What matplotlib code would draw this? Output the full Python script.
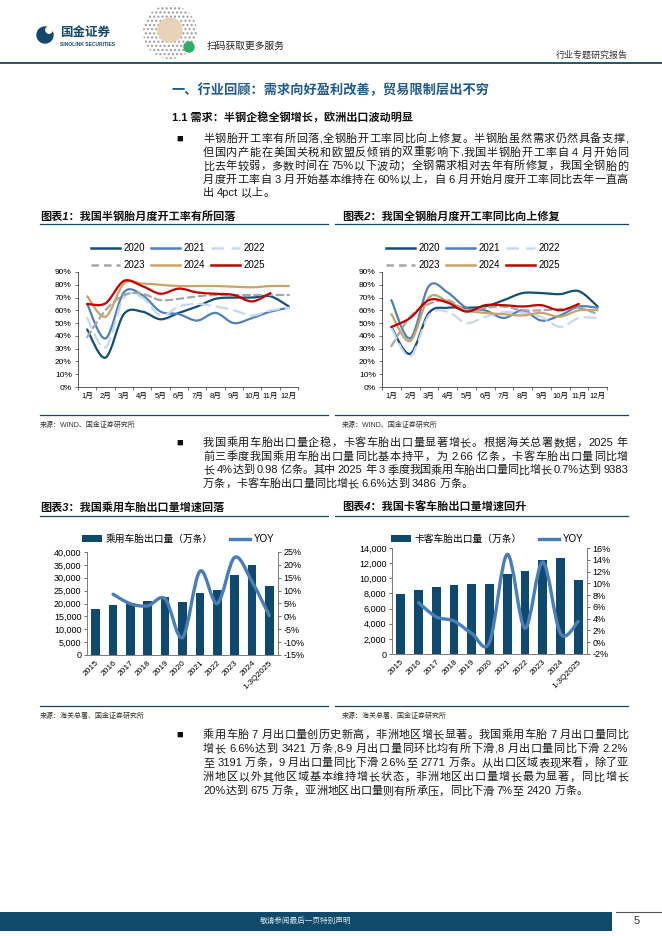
import re
import numpy as np
import matplotlib
matplotlib.use('Agg')
import matplotlib.pyplot as plt
from matplotlib.path import Path
from matplotlib.patches import PathPatch, Rectangle, Circle
from matplotlib.lines import Line2D
from matplotlib.ticker import FuncFormatter, MultipleLocator

plt.rcParams['font.family'] = ['Liberation Sans', 'Noto Sans CJK SC', 'DejaVu Sans']

W, H = 662, 936

# ---- data ----
months = ['1月', '2月', '3月', '4月', '5月', '6月', '7月', '8月', '9月', '10月', '11月', '12月']
years = ['2020', '2021', '2022', '2023', '2024', '2025']

# semi-steel tyre monthly operating rate (%)
semi_2020 = [45, 23, 57, 59, 53, 58, 63, 69, 70, 70, 71, 63]
semi_2021 = [65, 38, 74, 72, 59, 57, 52, 58, 50, 54, 59, 62]
semi_2022 = [54, 31, 70, 70, 56, 63, 65, 63, 60, 56, 60, 62]
semi_2023 = [39, 60, 72, 73, 68, 69, 71, 72, 72, 72, 72, 72]
semi_2024 = [71, 55, 81, 81, 80, 79, 79, 79, 78.5, 78, 79, 79]
semi_2025 = [65, 65.5, 83, 79, 73, 77, 74, 73, 72, 67, 73.5]

# all-steel tyre monthly operating rate (%)
full_2020 = [47, 26, 58, 62, 62, 63, 68, 73.5, 73.5, 72.7, 75, 63]
full_2021 = [68, 38, 79, 74, 62, 60, 54, 60, 52, 56, 63, 62]
full_2022 = [46, 24, 56, 59, 50, 55, 58.5, 58, 55, 47, 54, 54]
full_2023 = [32, 55, 65, 68, 60, 62, 63, 60, 60, 61, 62, 57]
full_2024 = [57, 36, 70, 67, 60, 58, 57, 56, 58, 55, 60, 60]
full_2025 = [47, 54, 68, 66, 59, 64, 64, 63, 64, 60, 65]

export_cats = ['2015', '2016', '2017', '2018', '2019', '2020', '2021', '2022', '2023', '2024', '1-3Q2025']
pcr_export = [17800, 19350, 20130, 21040, 22340, 20520, 24030, 25190, 30900, 35060, 26620]
pcr_yoy = [None, 8.6, 4.9, 4.1, 6.8, -8.2, 17.5, 5.0, 22.9, 13.5, 0.3]
tbr_export = [7905, 8435, 8790, 9140, 9230, 9275, 10600, 10910, 12410, 12630, 9760]
tbr_yoy = [None, 6.7, 4.3, 3.6, 1.5, 0.0, 14.9, 2.4, 13.6, 1.5, 3.5]

line_colors = ['#154f74', '#4f81bd', '#c6d9f0', '#a6a6a6', '#c8a46a', '#c00000']
line_styles = ['-', '-', (0, (5, 3)), (0, (3, 2)), '-', '-']
bar_color = '#0f4a6e'
yoy_color = '#4a7ebb'
teal = '#14486a'

para1 = ["半钢胎开工率有所回落,全钢胎开工率同比向上修复。半钢胎虽然需求仍然具备支撑,",
         "但国内产能在美国关税和欧盟反倾销的双重影响下,我国半钢胎开工率自 4 月开始同",
         "比去年较弱，多数时间在 75%以下波动；全钢需求相对去年有所修复，我国全钢胎的",
         "月度开工率自 3 月开始基本维持在 60%以上，自 6 月开始月度开工率同比去年一直高",
         "出 4pct 以上。"]
para2 = ["我国乘用车胎出口量企稳，卡客车胎出口量显著增长。根据海关总署数据，2025 年",
         "前三季度我国乘用车胎出口量同比基本持平，为 2.66 亿条，卡客车胎出口量同比增",
         "长 4%达到 0.98 亿条。其中 2025 年 3 季度我国乘用车胎出口量同比增长 0.7%达到 9383",
         "万条，卡客车胎出口量同比增长 6.6%达到 3486 万条。"]
para3 = ["乘用车胎 7 月出口量创历史新高，非洲地区增长显著。我国乘用车胎 7 月出口量同比",
         "增长 6.6%达到 3421 万条,8-9 月出口量同环比均有所下滑,8 月出口量同比下滑 2.2%",
         "至 3191 万条，9 月出口量同比下滑 2.6%至 2771 万条。从出口区域表现来看，除了亚",
         "洲地区以外其他区域基本维持增长状态，非洲地区出口量增长最为显著，同比增长",
         "20%达到 675 万条，亚洲地区出口量则有所承压，同比下滑 7%至 2420 万条。"]


def fx(x):
    return x / W


def fy(y):
    return 1 - y / H


def axes_px(left, top, right, bottom):
    return fig.add_axes([fx(left), fy(bottom), (right - left) / W, (bottom - top) / H])


def smooth_path(xs, ys):
    # bezier through the points, like excel's smoothed line
    pts = [np.array([x, y], float) for x, y in zip(xs, ys) if y is not None]
    verts = [pts[0]]
    codes = [Path.MOVETO]
    n = len(pts)
    for i in range(n - 1):
        p0 = pts[i - 1] if i > 0 else pts[i]
        p1, p2 = pts[i], pts[i + 1]
        p3 = pts[i + 2] if i + 2 < n else pts[i + 1]
        verts += [p1 + (p2 - p0) / 6, p2 - (p3 - p1) / 6, p2]
        codes += [Path.CURVE4] * 3
    return Path(verts, codes)


def justify(lines, x0, x1, y0, step, size=8):
    r = fig.canvas.get_renderer()
    for k, line in enumerate(lines):
        y = fy(y0 + k * step)
        toks = re.findall(r'[A-Za-z0-9.%\-]+| |.', line)
        objs, widths = [], []
        for t in toks:
            if t == ' ':
                objs.append(None)
                widths.append(size * 0.35)
                continue
            o = fig.text(0, y, t, fontsize=size, va='center', ha='left', color='#1a1a1a')
            objs.append(o)
            widths.append(o.get_window_extent(r).width)
        last = k == len(lines) - 1
        gap = (x1 - x0 - sum(widths)) / max(len(toks) - 1, 1)
        if last:
            gap = min(gap, 0)
        x = x0
        for o, w in zip(objs, widths):
            if o is not None:
                o.set_x(fx(x))
            x += w + gap


fig = plt.figure(figsize=(W / 100, H / 100), dpi=100)

# background drawing layer in pixel units
bg = fig.add_axes([0, 0, 1, 1])
bg.set_xlim(0, W)
bg.set_ylim(H, 0)
bg.axis('off')

# ---- header ----
bg.add_patch(Circle((45, 35), 8, color=teal))
bg.add_patch(Circle((49, 30), 3.2, color='white'))
fig.text(fx(60), fy(33), '国金证券', fontsize=9, fontweight='bold', color=teal, va='center')
fig.text(fx(60), fy(45), 'SINOLINK SECURITIES', fontsize=3.6, fontweight='bold', color=teal, va='center')
bg.add_patch(Circle((170, 32), 27, facecolor='white', edgecolor='#9a9a9a', hatch='....', lw=0))
bg.add_patch(Circle((170, 30), 12, color='#e8d3b8'))
bg.add_patch(Circle((189, 47), 5, color='#2aae67'))
fig.text(fx(207), fy(46), '扫码获取更多服务', fontsize=7, color='#222222', va='center')
fig.text(fx(628), fy(55), '行业专题研究报告', fontsize=6.5, color='#333333', va='center', ha='right')
bg.plot([0, W], [62.5, 62.5], color=teal, lw=1.3)

# ---- headings and paragraphs ----
fig.text(fx(172), fy(90), '一、行业回顾：需求向好盈利改善，贸易限制层出不穷', fontsize=9.5,
         fontweight='bold', color='#1f5a8a', va='center')
fig.text(fx(172), fy(118), '1.1 需求：半钢企稳全钢增长，欧洲出口波动明显', fontsize=8,
         fontweight='bold', color='#111111', va='center')
for yb in (139, 443, 735):
    fig.text(fx(180), fy(yb), '■', fontsize=8, va='center', ha='center', color='#111111')
justify(para1, 203, 628, 139, 13.6)
justify(para2, 203, 628, 443, 13.6)
justify(para3, 203, 628, 735, 14.1)

# ---- chart frames ----
titles = [(40, 216, '图表1：我国半钢胎月度开工率有所回落'), (342, 216, '图表2：我国全钢胎月度开工率同比向上修复'),
          (40, 507, '图表3：我国乘用车胎出口量增速回落'), (342, 507, '图表4：我国卡客车胎出口量增速回升')]
for x, y, t in titles:
    fig.text(fx(x), fy(y), t, fontsize=8, fontweight='bold', style='italic', va='center', color='#111111')
for y in (224, 415, 516, 706):
    bg.plot([40, 328], [y, y], color=teal, lw=0.9)
    bg.plot([335, 628], [y, y], color=teal, lw=0.9)
fig.text(fx(40), fy(425), '来源：WIND、国金证券研究所', fontsize=5, va='center', color='#333333')
fig.text(fx(342), fy(425), '来源：WIND、国金证券研究所', fontsize=5, va='center', color='#333333')
fig.text(fx(40), fy(716), '来源：海关总署、国金证券研究所', fontsize=5, va='center', color='#333333')
fig.text(fx(342), fy(716), '来源：海关总署、国金证券研究所', fontsize=5, va='center', color='#333333')


def rate_chart(box, series, legend_x):
    ax = axes_px(*box)
    x = np.arange(12)
    handles = []
    for s, c, ls, lab in zip(series, line_colors, line_styles, years):
        xs = x[:len(s)]
        ax.add_patch(PathPatch(smooth_path(xs, [v / 100 for v in s]), fill=False,
                               edgecolor=c, lw=1.6, ls=ls, capstyle='round'))
        handles.append(Line2D([], [], color=c, lw=1.8, ls=ls))
    ax.set_xlim(-0.5, 11.5)
    ax.set_ylim(0, 0.9)
    ax.yaxis.set_major_locator(MultipleLocator(0.1))
    ax.yaxis.set_major_formatter(FuncFormatter(lambda v, p: f'{v * 100:.0f}%'))
    ax.set_xticks(x)
    ax.set_xticklabels(months)
    ax.set_xticks(np.arange(-0.5, 12, 1), minor=True)
    ax.tick_params(axis='x', which='major', length=0, labelsize=5.5, pad=4)
    ax.tick_params(axis='x', which='minor', length=2.5, width=0.6, color='#595959')
    ax.tick_params(axis='y', length=2.5, width=0.6, labelsize=6, color='#595959', pad=2)
    for k in ('top', 'right'):
        ax.spines[k].set_visible(False)
    for k in ('left', 'bottom'):
        ax.spines[k].set_color('#595959')
        ax.spines[k].set_linewidth(0.7)
    ax.patch.set_alpha(0)
    order = [0, 3, 1, 4, 2, 5]
    ax.legend([handles[i] for i in order], [years[i] for i in order], ncol=3,
              loc='center', bbox_to_anchor=(fx(legend_x), fy(256.5)), bbox_transform=fig.transFigure,
              frameon=False, fontsize=7, handlelength=3.0, handletextpad=0.35,
              columnspacing=0.6, labelspacing=0.7, borderpad=0)
    return ax


rate_chart((78, 272, 298, 387), [semi_2020, semi_2021, semi_2022, semi_2023, semi_2024, semi_2025], 178)
rate_chart((382, 272, 607, 387), [full_2020, full_2021, full_2022, full_2023, full_2024, full_2025], 473)


def export_chart(box, vals, yoy, ymax, ystep, rlim, rstep, label, legend_x):
    ax = axes_px(*box)
    x = np.arange(len(vals))
    bars = ax.bar(x, vals, width=0.5, color=bar_color, zorder=2)
    ax.set_xlim(-0.5, len(vals) - 0.5)
    ax.set_ylim(0, ymax)
    ax.yaxis.set_major_locator(MultipleLocator(ystep))
    ax.yaxis.set_major_formatter(FuncFormatter(lambda v, p: f'{v:,.0f}'))
    ax.set_xticks(x)
    ax.set_xticklabels(export_cats, rotation=45, ha='right', rotation_mode='anchor')
    ax.tick_params(axis='x', length=0, labelsize=6, pad=3)
    ax.tick_params(axis='y', length=2, width=0.6, labelsize=6.5, color='#595959', pad=2)
    ax2 = ax.twinx()
    ax2.add_patch(PathPatch(smooth_path(x, [None if v is None else v / 100 for v in yoy]),
                            fill=False, edgecolor=yoy_color, lw=2.4, capstyle='round', zorder=3))
    ax2.set_ylim(*rlim)
    ax2.yaxis.set_major_locator(MultipleLocator(rstep))
    ax2.yaxis.set_major_formatter(FuncFormatter(lambda v, p: f'{v * 100:.0f}%'))
    ax2.tick_params(axis='y', length=2, width=0.6, labelsize=6.5, color='#595959', pad=2)
    for a in (ax, ax2):
        a.spines['top'].set_visible(False)
        for k in ('left', 'right', 'bottom'):
            a.spines[k].set_color('#7f7f7f')
            a.spines[k].set_linewidth(0.7)
    line_h = Line2D([], [], color=yoy_color, lw=2.4)
    ax2.legend([bars, line_h], [label, 'YOY'], ncol=2, loc='center',
               bbox_to_anchor=(fx(legend_x), fy(539)), bbox_transform=fig.transFigure,
               frameon=False, fontsize=7, handlelength=2.1, handleheight=0.6,
               handletextpad=0.3, columnspacing=1.8, borderpad=0)


export_chart((87, 552, 278, 655), pcr_export, pcr_yoy, 40000, 5000, (-0.15, 0.25), 0.05,
             '乘用车胎出口量（万条）', 178)
export_chart((392, 548, 587, 654), tbr_export, tbr_yoy, 14000, 2000, (-0.02, 0.16), 0.02,
             '卡客车胎出口量（万条）', 487)

# ---- footer ----
bg.add_patch(Rectangle((0, 912), 612, 19, color='#0f4a6b', lw=0))
bg.plot([616, W], [912, 912], color='#555555', lw=0.8)
fig.text(fx(306), fy(921.5), '敬请参阅最后一页特别声明', fontsize=5.5, color='#dde6ee', va='center', ha='center')
fig.text(fx(637), fy(921.5), '5', fontsize=8, color='#333333', va='center', ha='center')

fig.savefig('out.png', dpi=100)
